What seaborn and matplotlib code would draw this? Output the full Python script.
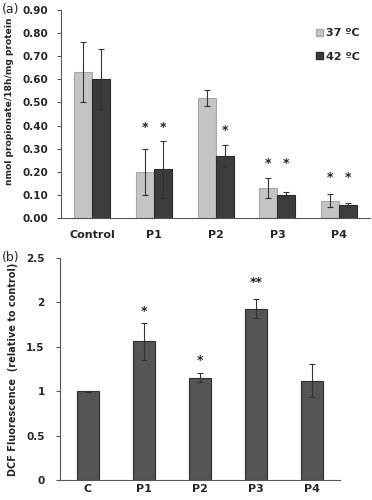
import pandas as pd
import numpy as np
import matplotlib
matplotlib.use("Agg")
import matplotlib.pyplot as plt
import seaborn as sns
from matplotlib.patches import Patch

sns.set_style("white")
plt.rcParams['font.family'] = ['DejaVu Sans']

# panel (a) data
groups_a = ['Control', 'P1', 'P2', 'P3', 'P4']
temps = ['37 ºC', '42 ºC']
mean_37 = [0.63, 0.20, 0.52, 0.13, 0.075]
err_37 = [0.13, 0.10, 0.035, 0.043, 0.028]
mean_42 = [0.60, 0.21, 0.27, 0.10, 0.056]
err_42 = [0.13, 0.125, 0.048, 0.012, 0.009]
stars_a_37 = ['', '*', '', '*', '*']
stars_a_42 = ['', '*', '*', '*', '*']
star_y_37 = [0, 0.39, 0, 0.235, 0.175]
star_y_42 = [0, 0.39, 0.38, 0.235, 0.175]

# panel (b) data
groups_b = ['C', 'P1', 'P2', 'P3', 'P4']
mean_b = [1.0, 1.56, 1.15, 1.93, 1.12]
err_b = [0.005, 0.21, 0.05, 0.11, 0.19]
stars_b = ['', '*', '*', '**', '']
star_y_b = [0, 1.90, 1.35, 2.22, 0]

df_a = pd.DataFrame({
    'group': groups_a * 2,
    'temp': [temps[0]] * 5 + [temps[1]] * 5,
    'value': mean_37 + mean_42,
    'err': err_37 + err_42,
})
df_b = pd.DataFrame({'group': groups_b, 'value': mean_b, 'err': err_b})

light = '#c4c4c4'
dark = '#3c3c3c'

fig = plt.figure(figsize=(3.72, 5.0), dpi=100)

# ---- panel (a)
ax1 = fig.add_axes([0.164, 0.564, 0.831, 0.416])
sns.barplot(data=df_a, x='group', y='value', hue='temp', palette=[light, dark],
            width=0.58, errorbar=None, legend=False, ax=ax1, saturation=1)
for p in ax1.patches[:5]:
    p.set_edgecolor('#a8a8a8')
for p in ax1.patches[5:10]:
    p.set_edgecolor('#2a2a2a')
for i, p in enumerate(ax1.patches[:10]):
    p.set_linewidth(0.8)
    xc = p.get_x() + p.get_width() / 2
    err = df_a['err'][i]
    ax1.errorbar(xc, p.get_height(), yerr=err, color='#333333', lw=0.8,
                 capsize=2.5, capthick=0.8)
    star = (stars_a_37 + stars_a_42)[i]
    sy = (star_y_37 + star_y_42)[i]
    if star:
        ax1.text(xc, sy, star, ha='center', va='center', fontsize=9,
                 fontweight='bold', color='#222222')
ax1.set_xlim(-0.5, 4.5)
ax1.set_ylim(0, 0.9)
ax1.set_yticks(np.arange(0, 0.91, 0.1))
ax1.set_yticklabels([f'{v:.2f}' for v in np.arange(0, 0.91, 0.1)],
                    fontsize=7.5, fontweight='bold')
ax1.set_xticks(range(5))
ax1.set_xticklabels(groups_a, fontsize=8, fontweight='bold')
ax1.set_xticks(np.arange(-0.5, 4.6, 1), minor=True)
ax1.tick_params(axis='x', which='major', length=0, pad=9)
ax1.tick_params(axis='x', which='minor', length=3, direction='out', color='#555555')
ax1.tick_params(axis='y', length=3, direction='out', color='#555555', left=True, pad=6)
ax1.set_xlabel('')
ax1.set_ylabel('nmol propionate/18h/mg protein', fontsize=6.6, fontweight='bold')
ax1.yaxis.set_label_coords(-0.152, 0.56)
for s in ['top', 'right']:
    ax1.spines[s].set_visible(False)
for s in ['left', 'bottom']:
    ax1.spines[s].set_color('#555555')
    ax1.spines[s].set_linewidth(0.8)
handles = [Patch(facecolor=light, edgecolor='#a8a8a8'), Patch(facecolor=dark, edgecolor='#2a2a2a')]
ax1.legend(handles, temps, loc='upper right', bbox_to_anchor=(1.0, 0.96), frameon=False,
           prop={'size': 8, 'weight': 'bold'}, handlelength=0.6, handleheight=0.6,
           handletextpad=0.3, labelspacing=1.2)
fig.text(0.005, 0.982, '(a)', fontsize=9, va='center')

# ---- panel (b)
ax2 = fig.add_axes([0.161, 0.04, 0.753, 0.444])
sns.barplot(data=df_b, x='group', y='value', color='#555555', width=0.4,
            errorbar=None, ax=ax2, saturation=1)
for i, p in enumerate(ax2.patches[:5]):
    p.set_edgecolor('#2e2e2e')
    p.set_linewidth(0.8)
    xc = p.get_x() + p.get_width() / 2
    ax2.errorbar(xc, p.get_height(), yerr=err_b[i], color='#333333', lw=0.8,
                 capsize=2.5, capthick=0.8)
    if stars_b[i]:
        ax2.text(xc, star_y_b[i], stars_b[i], ha='center', va='center', fontsize=9,
                 fontweight='bold', color='#222222')
ax2.set_xlim(-0.5, 4.5)
ax2.set_ylim(0, 2.5)
ax2.set_yticks([0, 0.5, 1, 1.5, 2, 2.5])
ax2.set_yticklabels(['0', '0.5', '1', '1.5', '2', '2.5'], fontsize=7.5, fontweight='bold')
ax2.set_xticks(range(5))
ax2.set_xticklabels(groups_b, fontsize=8, fontweight='bold')
ax2.set_xticks(np.arange(-0.5, 4.6, 1), minor=True)
ax2.tick_params(axis='x', which='major', length=0, pad=3)
ax2.tick_params(axis='x', which='minor', length=3, direction='out', color='#555555')
ax2.tick_params(axis='y', length=3, direction='out', color='#555555', left=True, pad=8)
ax2.set_xlabel('')
ax2.set_ylabel('DCF Fluorescence  (relative to control)', fontsize=7, fontweight='bold')
ax2.yaxis.set_label_coords(-0.15, 0.5)
for s in ['top', 'right']:
    ax2.spines[s].set_visible(False)
for s in ['left', 'bottom']:
    ax2.spines[s].set_color('#555555')
    ax2.spines[s].set_linewidth(0.8)
fig.text(0.005, 0.484, '(b)', fontsize=9, va='center')

fig.savefig('out.png', dpi=100)
